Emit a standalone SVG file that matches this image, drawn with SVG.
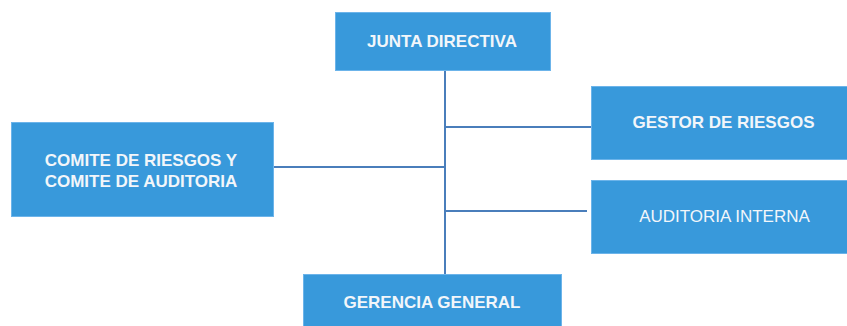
<svg xmlns="http://www.w3.org/2000/svg" width="847" height="326" viewBox="0 0 847 326">
<style>
.box{fill:#3899db;stroke:#6cb4ea;stroke-width:1}
.t{font-family:"Liberation Sans",Arial,sans-serif;font-size:17px;font-weight:bold;fill:#f2f6fa;text-anchor:middle}
.n{font-weight:normal}
.ln{stroke:#4a7ebb;stroke-width:2;fill:none}
</style>
<rect width="847" height="326" fill="#ffffff"/>
<g id="connectors">
<line class="ln" x1="445" y1="71" x2="445" y2="274"/>
<line class="ln" x1="445" y1="127" x2="592" y2="127"/>
<line class="ln" x1="445" y1="211" x2="587" y2="211"/>
<line class="ln" x1="274" y1="167" x2="445" y2="167"/>
</g>
<g id="junta">
<rect class="box" x="335.5" y="12.5" width="215" height="58"/>
<text class="t" x="442" y="47">JUNTA DIRECTIVA</text>
</g>
<g id="comite">
<rect class="box" x="11.5" y="122.5" width="262" height="94"/>
<text class="t" x="141" y="166">COMITE DE RIESGOS Y</text>
<text class="t" x="141" y="187">COMITE DE AUDITORIA</text>
</g>
<g id="gestor">
<rect class="box" x="591.5" y="86.5" width="260" height="73"/>
<text class="t" x="723.5" y="128">GESTOR DE RIESGOS</text>
</g>
<g id="auditoria">
<rect class="box" x="591.5" y="180.5" width="260" height="73"/>
<text class="t n" x="724.5" y="222">AUDITORIA INTERNA</text>
</g>
<g id="gerencia">
<rect class="box" x="303.5" y="274.5" width="258" height="56"/>
<text class="t" x="432" y="308">GERENCIA GENERAL</text>
</g>
</svg>
